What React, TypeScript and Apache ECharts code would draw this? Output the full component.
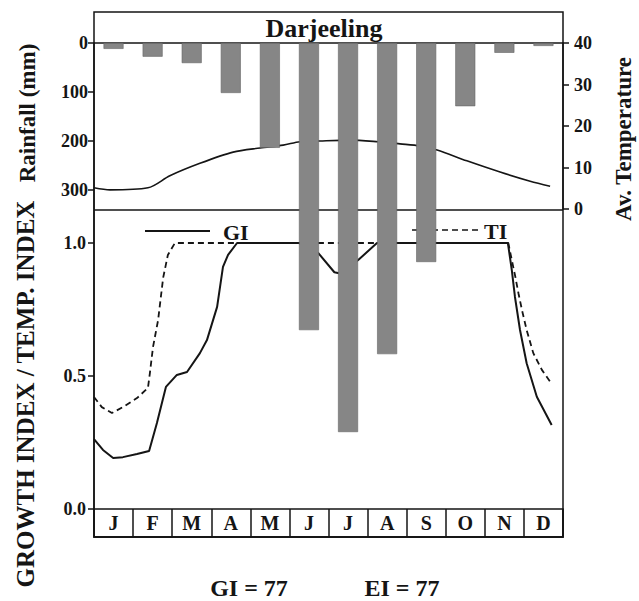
import React, { useEffect, useRef } from "react";
import * as echarts from "echarts";

// ---- data ----
const months = ["J", "F", "M", "A", "M", "J", "J", "A", "S", "O", "N", "D"];
const rainfall = [12, 28, 41, 102, 214, 586, 794, 635, 447, 129, 20, 6];
const rainTicks = [0, 100, 200, 300];
const tempTicks = [0, 10, 20, 30, 40];
const indexTicks = [0, 0.5, 1.0];

// month position (0 = start of Jan, 12 = end of Dec) and values
const tempMonth = [0, 0.41, 1.38, 1.94, 2.71, 3.56, 4.25, 4.84, 5.27, 5.78, 6.55, 7.27, 7.83, 8.34, 8.78, 9.54, 10.39, 11.16, 11.67];
const tempValue = [5.1, 4.6, 5.1, 8.0, 11.0, 13.7, 14.7, 15.4, 16.2, 16.4, 16.6, 16.2, 15.7, 15.2, 14.2, 11.6, 8.9, 6.7, 5.5];

const giMonth = [0, 0.23, 0.49, 0.74, 1.1, 1.41, 1.61, 1.84, 2.12, 2.38, 2.71, 2.89, 3.15, 3.3, 3.43, 3.66, 5.25, 5.74, 6.15, 6.3, 6.76, 7.24, 10.59, 10.69, 10.77, 10.9, 11.07, 11.33, 11.71];
const giValue = [0.263, 0.222, 0.192, 0.195, 0.207, 0.218, 0.323, 0.459, 0.504, 0.515, 0.586, 0.635, 0.76, 0.91, 0.955, 1.0, 1.0, 0.962, 0.89, 0.885, 0.936, 1.0, 1.0, 0.898, 0.798, 0.673, 0.548, 0.422, 0.316];

const tiMonth = [0, 0.2, 0.46, 0.74, 1.1, 1.38, 1.43, 1.51, 1.64, 1.77, 1.89, 2.07, 10.6, 10.69, 10.78, 10.86, 10.95, 11.07, 11.24, 11.46, 11.67];
const tiValue = [0.421, 0.383, 0.361, 0.383, 0.417, 0.455, 0.511, 0.609, 0.71, 0.87, 0.955, 1.0, 1.0, 0.936, 0.873, 0.811, 0.748, 0.673, 0.586, 0.523, 0.479];

const title = "Darjeeling";
const giLabel = "GI";
const tiLabel = "TI";
const giSummary = "GI = 77";
const eiSummary = "EI = 77";
const leftTitleTop = "Rainfall (mm)";
const leftTitleBottom = "GROWTH INDEX / TEMP. INDEX";
const rightTitle = "Av. Temperature";

const FONT = "'Liberation Serif', 'Times New Roman', serif";
const INK = "#151515";

export default function App() {
  const ref = useRef<HTMLDivElement>(null);

  useEffect(() => {
    if (!ref.current) return;
    const chart = echarts.init(ref.current, null, { renderer: "svg" });

    const L = 94, R = 639 - 563;
    const plotTop = 43, dividerY = 210, baseY = 509, boxBottom = 537;
    const rainPx = 0.49; // px per mm
    const idxPx = 266; // px per index unit

    const pair = (xs: number[], ys: number[]) => xs.map((x, i) => [x, ys[i]]);

    const tickLabel = { fontFamily: FONT, fontWeight: "bold", fontSize: 18, color: INK };

    const option: any = {
      animation: false,
      backgroundColor: "#ffffff",
      grid: [
        { left: L, right: R, top: plotTop, height: baseY - plotTop },
        { left: L, right: R, top: plotTop, height: 166 },
        { left: L, right: R, top: dividerY, height: baseY - dividerY },
        { left: L, right: R, top: baseY, height: boxBottom - baseY, show: true, borderColor: INK, borderWidth: 1.5 },
      ],
      xAxis: [
        { type: "category", gridIndex: 0, data: months, show: false, boundaryGap: true },
        { type: "value", gridIndex: 1, min: 0, max: 12, show: false },
        { type: "value", gridIndex: 2, min: 0, max: 12, show: false },
        {
          type: "category", gridIndex: 3, data: months, position: "top", boundaryGap: true,
          axisLine: { show: true, lineStyle: { color: INK, width: 1.5 } },
          axisTick: { show: false },
          splitLine: { show: true, lineStyle: { color: INK, width: 1.5 } },
          axisLabel: { inside: true, margin: 4, interval: 0, fontFamily: FONT, fontWeight: "bold", fontSize: 20, color: INK },
        },
      ],
      yAxis: [
        { type: "value", gridIndex: 0, inverse: true, min: 0, max: (baseY - plotTop) / rainPx, show: false },
        {
          type: "value", gridIndex: 1, inverse: true, min: 0, max: 166 / rainPx, position: "left",
          axisLine: { show: true, lineStyle: { color: INK, width: 1.5 } },
          axisTick: { show: true, length: 6, customValues: rainTicks, lineStyle: { color: INK, width: 1.5 } },
          axisLabel: { ...tickLabel, margin: 6, customValues: rainTicks },
          splitLine: { show: false },
        },
        {
          type: "value", gridIndex: 1, min: 0, max: 40, interval: 10, position: "right",
          axisLine: { show: true, lineStyle: { color: INK, width: 1.5 } },
          axisTick: { show: true, length: 6, customValues: tempTicks, lineStyle: { color: INK, width: 1.5 } },
          axisLabel: { ...tickLabel, margin: 11, customValues: tempTicks },
          splitLine: { show: false },
        },
        {
          type: "value", gridIndex: 2, min: 0, max: (baseY - dividerY) / idxPx, position: "left",
          axisLine: { show: true, lineStyle: { color: INK, width: 1.5 } },
          axisTick: { show: true, length: 6, customValues: indexTicks, lineStyle: { color: INK, width: 1.5 } },
          axisLabel: { ...tickLabel, margin: 8, customValues: indexTicks, formatter: (v: number) => v.toFixed(1) },
          splitLine: { show: false },
        },
        { type: "value", gridIndex: 3, show: false },
      ],
      series: [
        {
          name: "Temperature", type: "line", xAxisIndex: 1, yAxisIndex: 2,
          data: pair(tempMonth, tempValue), symbol: "none", smooth: 0.3, z: 2,
          lineStyle: { color: INK, width: 1.6 },
        },
        {
          name: giLabel, type: "line", xAxisIndex: 2, yAxisIndex: 3,
          data: pair(giMonth, giValue), symbol: "none", smooth: false, z: 3,
          lineStyle: { color: INK, width: 2 },
        },
        {
          name: tiLabel, type: "line", xAxisIndex: 2, yAxisIndex: 3,
          data: pair(tiMonth, tiValue), symbol: "none", smooth: false, z: 3,
          lineStyle: { color: INK, width: 1.8, type: [6, 4] },
        },
        {
          name: "Rainfall", type: "bar", xAxisIndex: 0, yAxisIndex: 0,
          data: rainfall, barWidth: 20, z: 6,
          itemStyle: { color: "#868686", borderColor: "#666666", borderWidth: 0.6 },
        },
      ],
      graphic: [
        { type: "rect", z: 1, shape: { x: L, y: 12, width: 563 - L, height: boxBottom - 12 }, style: { fill: "none", stroke: INK, lineWidth: 1.5 } },
        { type: "line", z: 1, shape: { x1: L, y1: plotTop, x2: 563, y2: plotTop }, style: { stroke: INK, lineWidth: 1.5 } },
        { type: "line", z: 1, shape: { x1: L, y1: dividerY, x2: 563, y2: dividerY }, style: { stroke: INK, lineWidth: 1.5 } },
        { type: "text", z: 1, x: 324, y: 28, style: { text: title, font: `bold 26px ${FONT}`, fill: INK, textAlign: "center", textVerticalAlign: "middle" } },
        { type: "line", z: 1, shape: { x1: 145, y1: 231, x2: 210, y2: 231 }, style: { stroke: INK, lineWidth: 1.8 } },
        { type: "text", z: 1, x: 223, y: 232, style: { text: giLabel, font: `bold 22px ${FONT}`, fill: INK, textAlign: "left", textVerticalAlign: "middle" } },
        { type: "line", z: 1, shape: { x1: 412, y1: 230, x2: 478, y2: 230 }, style: { stroke: INK, lineWidth: 1.6, lineDash: [6, 4] } },
        { type: "text", z: 1, x: 484, y: 231, style: { text: tiLabel, font: `bold 22px ${FONT}`, fill: INK, textAlign: "left", textVerticalAlign: "middle" } },
        { type: "text", z: 1, x: 27, y: 113, rotation: Math.PI / 2, style: { text: leftTitleTop, font: `bold 23px ${FONT}`, fill: INK, textAlign: "center", textVerticalAlign: "middle" } },
        { type: "text", z: 1, x: 25, y: 394, rotation: Math.PI / 2, style: { text: leftTitleBottom, font: `bold 25px ${FONT}`, fill: INK, textAlign: "center", textVerticalAlign: "middle" } },
        { type: "text", z: 1, x: 623, y: 139, rotation: Math.PI / 2, style: { text: rightTitle, font: `bold 23px ${FONT}`, fill: INK, textAlign: "center", textVerticalAlign: "middle" } },
        { type: "text", z: 1, x: 249, y: 588, style: { text: giSummary, font: `bold 24px ${FONT}`, fill: INK, textAlign: "center", textVerticalAlign: "middle" } },
        { type: "text", z: 1, x: 402, y: 588, style: { text: eiSummary, font: `bold 24px ${FONT}`, fill: INK, textAlign: "center", textVerticalAlign: "middle" } },
      ],
    };

    chart.setOption(option);
    return () => chart.dispose();
  }, []);

  return <div ref={ref} style={{ width: 639, height: 601, position: "absolute", left: 0, top: 0 }} />;
}
